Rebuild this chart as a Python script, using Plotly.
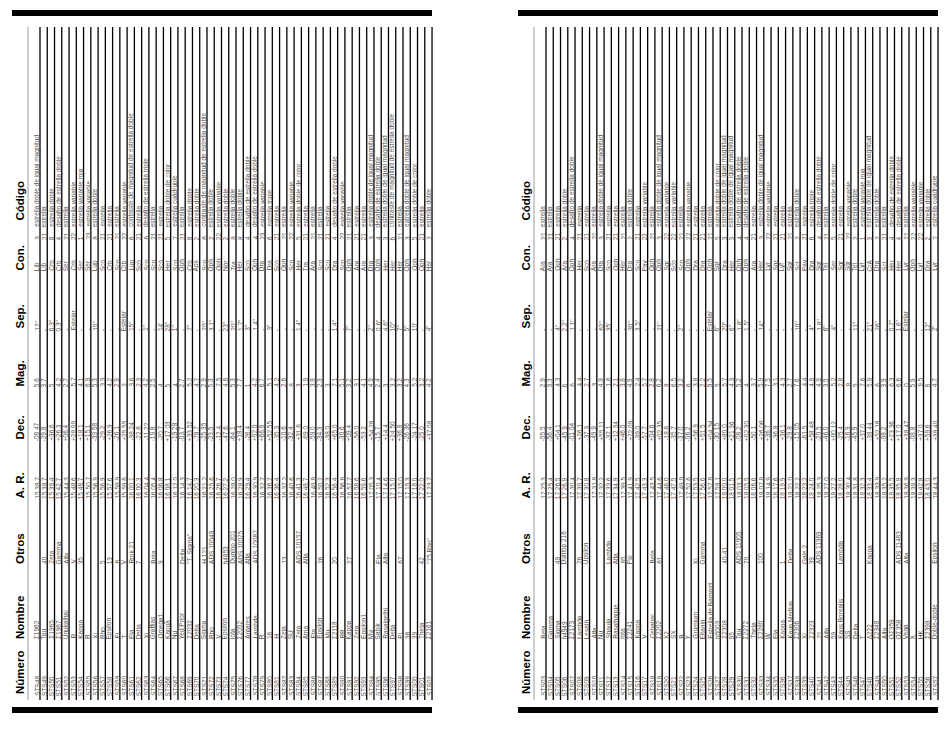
import plotly.graph_objects as go

# star list, two facing pages, every text rotated 90 degrees

numero = ["STS48", "STS49", "STS50", "STS51", "STS52", "STS53", "STS54", "STS55", "STS56", "STS57",
          "STS58", "STS59", "STS60", "STS61", "STS62", "STS63", "STS64", "STS65", "STS66", "STS67",
          "STS68", "STS69", "STS70", "STS71", "STS72", "STS73", "STS74", "STS75", "STS76", "STS77",
          "STS78", "STS79", "STS80", "STS81", "STS82", "STS83", "STS84", "STS85", "STS86", "STS87",
          "STS88", "STS89", "STS90", "STS91", "STS92", "STS93", "STS94", "STS95", "STS96", "STS97",
          "STS98", "STS99", "STS00", "STS01", "STS02",
          "STS03", "STS04", "STS05", "STS06", "STS07", "STS08", "STS09", "STS10", "STS11", "STS12",
          "STS13", "STS14", "STS15", "STS16", "STS17", "STS18", "STS19", "STS20", "STS21", "STS22",
          "STS23", "STS24", "STS25", "STS26", "STS27", "STS28", "STS29", "STS30", "STS31", "STS32",
          "STS33", "STS34", "STS35", "STS36", "STS37", "STS38", "STS39", "STS40", "STS41", "STS42",
          "STS43", "STS44", "STS45", "STS46", "STS47", "STS48", "STS49", "STS50", "STS51", "STS52",
          "STS53", "STS54", "STS55", "STS56", "STS57"]

nombre = ["Σ1962", "Tau", "Σ1965", "Σ1967", "Unukalhai", "R", "Kappa", "R", "Xi", "Rho",
          "Epsilon", "Pi", "T", "Eta", "Delta", "Xi", "Graffias", "Omega1", "Kappa", "Nu",
          "Yed Prior", "Σ2032", "Delta", "Sigma", "Rho", "V", "Epsilon", "Iota", "Σ2052", "Antares",
          "Lambda", "R", "16", "H", "Zeta", "SU", "Zeta", "Atria", "Eta", "Epsilon",
          "Mu", "Σ2118", "RR", "Kappa", "Zeta", "Epsilon1", "Mu", "Sabik", "Rasalgethi", "Delta",
          "Pi", "36", "39", "Theta", "Σ2161",
          "Beta", "Gamma", "Sigma", "h4949", "Σ2173", "Lambda", "Lesath", "Alfa", "Nu", "Shaula",
          "Rasalhague", "Iota", "Σ2241", "Kappa", "V", "Cebalrai", "Σ2202", "X2", "SX", "B",
          "Y", "Grumium", "Eltanin", "Estrella de Barnard", "h5003", "Σ2308", "95", "Tau", "Σ2272", "Theta",
          "Σ2280", "W", "Eta", "Kappa", "Kaus Medius", "Σ2306", "Xi", "Σ2323", "21", "Alfa",
          "59", "Kaus Borealis", "SS", "Delta", "T", "Δ222", "Σ2348", "Alfa", "OΣ359", "OΣ358",
          "Vega", "X", "HK", "Σ2398", "Doble-doble"]

otros = ["", "40", "Zeta", "Gamma", "Alfa", "V", "35", "", "", "5",
         "13", "6", "V", "Rmk 21", "7", "", "Beta", "9", "", "",
         "Delta", "\"T, Sigma\"", "", "H 121", "ADS 10049", "", "h4853", "Dunlop 201", "ADS 10075", "Alfa",
         "ADS 10087", "", "", "", "13", "", "ADS 10157", "Alfa", "", "26",
         "", "20", "", "27", "", "", "", "Eta", "Alfa", "",
         "67", "", "", "42", "\"75 Rho\"",
         "", "", "49", "Dunlop 216", "", "76", "Upsilon", "", "", "Lambda",
         "Alfa", "85", "Psi", "", "", "Beta", "61", "", "", "",
         "", "Xi", "Gamma", "", "", "40-41", "", "ADS 11005", "70", "",
         "100", "", "", "1", "Delta", "", "Gale 2", "39", "ADS 11369", "",
         "", "Lambda", "", "", "", "Kappa", "", "", "", "ADS 11483",
         "Alfa", "", "", "", "Epsilon"]

ar = ["15 38.7", "15 38.7", "15 39.4", "15 42.7", "15 44.3", "15 48.6", "15 48.7", "15 50.7", "15 56.9", "15 56.9",
      "15 57.6", "15 58.9", "15 59.6", "16 00.1", "16 00.3", "16 04.4", "16 05.4", "16 06.8", "16 08.1", "16 12.0",
      "16 14.3", "16 14.7", "16 20.3", "16 21.2", "16 25.6", "16 26.7", "16 27.2", "16 28.0", "16 28.9", "16 29.4",
      "16 30.9", "16 32.7", "16 36.2", "16 36.4", "16 37.2", "16 40.6", "16 41.3", "16 48.7", "16 49.8", "16 50.2",
      "16 52.3", "16 56.4", "16 56.6", "16 57.7", "16 58.6", "16 59.6", "17 05.3", "17 10.4", "17 14.6", "17 15.0",
      "17 15.0", "17 15.3", "17 18.0", "17 22.0", "17 23.7",
      "17 25.3", "17 25.4", "17 26.5", "17 26.9", "17 30.4", "17 30.7", "17 30.8", "17 31.8", "17 32.2", "17 33.6",
      "17 34.9", "17 39.5", "17 41.9", "17 42.5", "17 43.3", "17 43.5", "17 44.6", "17 46.0", "17 47.5", "17 49.9",
      "17 52.6", "17 53.5", "17 56.6", "17 57.8", "17 59.1", "18 00.0", "18 01.5", "18 03.1", "18 05.5", "18 06.6",
      "18 07.8", "18 14.9", "18 17.6", "18 19.9", "18 21.0", "18 22.2", "18 23.2", "18 24.0", "18 25.3", "18 27.0",
      "18 27.2", "18 28.0", "18 30.4", "18 31.8", "18 32.3", "18 33.4", "18 33.9", "18 35.2", "18 35.5", "18 35.9",
      "18 36.9", "18 38.3", "18 42.8", "18 43.0", "18 44.3"]

dec = ["-08 47", "-29.8", "+36.6", "+26.3", "+06.4", "+28 09", "+18.1", "+15.1", "-33 58", "-29.2",
       "+26.9", "-26.1", "+25 55", "-38 24", "-22.6", "-11 22", "-19.8", "-20.7", "+17 03", "-19 28",
       "-03.7", "+33 52", "-78.7", "-25 35", "-23.5", "-12.4", "-47.6", "-64.1", "+18.4", "-26.4",
       "+02.0", "+66.8", "+52 55", "-35.3", "-10.6", "-32.4", "+31.6", "-69.0", "-59.0", "-34.3",
       "-38.0", "+65.0", "-30.6", "+09.4", "-56.0", "-53.2", "+54 28", "-15.7", "+14.4", "+24 50",
       "+36.8", "-26 36", "-24 17", "-25.0", "+37 08",
       "-55.5", "-56.4", "+04.1", "-45.9", "-01 04", "+26.1", "-37.3", "-49.9", "+55 11", "-37.1",
       "+12 34", "+46.0", "+72 09", "-39.0", "-57.7", "+04.6", "+02 35", "-18.6", "-35.7", "-37.0",
       "-06.2", "+56.9", "+51.5", "+04 34", "-30 15", "+80.0", "+21 36", "-08.2", "+02 30", "-50.1",
       "+26 06", "+36.7", "-36.8", "+36.1", "-29.8", "-15 05", "-61.5", "+58 48", "-20.5", "-46.0",
       "+00 12", "-25.4", "-16.9", "-45.9", "+37.0", "-38 44", "+52 18", "-08.2", "+23 36", "+17.0",
       "+38 47", "-08.8", "+37.0", "+59.6", "+39 40"]

mag = ["5.6", "3.7", "5", "4.2", "2.7", "5.7", "4.1", "6.9", "5.3", "3.9",
       "4.2", "2.9", "2", "3.6", "2.3", "4.2", "2.5", "4", "5", "4",
       "2.7", "5.2", "4.7", "2.9", "5.3", "7.5", "4.8", "5.3", "7.7", "1",
       "4.2", "6.7", "5.1", "4.2", "2.6", "8", "3", "1.9", "3.8", "2.3",
       "3", "7.1", "5.1", "3.2", "3.1", "4.1", "4.9", "2.4", "3", "3.2",
       "3.2", "4.3", "5.2", "3.2", "4.2",
       "2.9", "3.3", "4.3", "6", "6", "4.4", "2.7", "3", "4.9", "1.6",
       "2.1", "3.8", "4.9", "2.4", "5.7", "2.8", "6.2", "8", "6.5", "3.2",
       "6", "3.8", "2.2", "9.5", "5", "5.7", "4.3", "5.2", "4", "3.7",
       "5.9", "7.5", "3.1", "4.3", "2.7", "7.6", "4.4", "4.9", "4.9", "3.5",
       "5.2", "2.8", "8", "5", "7.6", "5.9", "6", "3.9", "6.3", "6.6",
       "0", "5.9", "9.5", "8", "4.7"]

sep = ["12\"", "-", "6.3\"", "0.3\"", "-", "Estelar", "-", "-", "10\"", "-",
       "-", "-", "Estelar", "15\"", "-", "1\"", "-", "14'", "28\"", "1\"",
       "-", "7\"", "-", "20\"", "3.1\"", "-", "23\"", "20\"", "1.7\"", "3\"",
       "1.4\"", "-", "3\"", "-", "-", "-", "1.4\"", "-", "-", "-",
       "-", "1.4\"", "-", "7\"", "-", "-", "2\"", "0.6\"", "4.6\"", "10\"",
       "7\"", "5\"", "10'", "-", "4\"",
       "-", "-", "4\"", "2.2\"", "1.1\"", "-", "-", "-", "62\"", "35'",
       "-", "-", "30\"", "3.5\"", "-", "-", "21\"", "-", "-", "2\"",
       "-", "-", "-", "Estelar", "6\"", "20\"", "6\"", "1.8\"", "1.5\"", "-",
       "14\"", "-", "-", "-", "-", "10\"", "-", "4\"", "1.8\"", "6\"",
       "4\"", "-", "-", "11\"", "-", "21\"", "26\"", "-", "0.7\"", "1.6\"",
       "Estelar", "-", "-", "12\"", "2\""]

con = ["Lib", "Lib", "Crb", "Crb", "Ser", "Crb", "Ser", "Ser", "Lup", "Sco",
       "Crb", "Sco", "Crb", "Lup", "Sco", "Sco", "Sco", "Sco", "Her", "Sco",
       "Oph", "Crb", "Aps", "Sco", "Oph", "Oph", "Nor", "Tra", "Her", "Sco",
       "Oph", "Dra", "Dra", "Sco", "Oph", "Sco", "Her", "Tra", "Ara", "Sco",
       "Sco", "Dra", "Sco", "Oph", "Ara", "Ara", "Dra", "Oph", "Her", "Her",
       "Her", "Oph", "Oph", "Oph", "Her",
       "Ara", "Ara", "Oph", "Ara", "Oph", "Her", "Sco", "Ara", "Dra", "Sco",
       "Oph", "Her", "Dra", "Sco", "Pav", "Oph", "Oph", "Sgr", "Sco", "Sco",
       "Oph", "Dra", "Dra", "Oph", "Sgr", "Dra", "Her", "Oph", "Oph", "Ara",
       "Her", "Lyr", "Sgr", "Lyr", "Sgr", "Sct", "Pav", "Dra", "Sgr", "Tel",
       "Ser", "Sgr", "Sgr", "Tel", "Lyr", "CrA", "Dra", "Sct", "Her", "Her",
       "Lyr", "Oph", "Lyr", "Dra", "Lyr"]

cod = ["3", "21", "8", "4", "21", "22", "1", "23", "8", "21",
       "21", "21", "22", "6", "21", "6", "21", "21", "5", "7",
       "21", "8", "2", "6", "2", "22", "2", "8", "8", "4",
       "4", "23", "6", "21", "21", "22", "5", "21", "21", "21",
       "21", "4", "22", "21", "21", "21", "3", "4", "3", "6",
       "21", "3", "5", "21", "2",
       "21", "21", "21", "2", "4", "21", "21", "21", "3", "21",
       "21", "21", "2", "21", "22", "21", "3", "22", "22", "21",
       "22", "21", "21", "21", "5", "3", "3", "4", "4", "21",
       "3", "22", "21", "21", "21", "2", "21", "6", "4", "21",
       "5", "21", "22", "2", "1", "3", "2", "21", "4", "4",
       "21", "22", "22", "2", "7"]

codigo = ["estrella doble de igual magnitud", "estrella", "estrella doble", "desafío de estrella doble",
          "estrella", "estrella variable", "estrella variable roja", "estrella variable", "estrella doble",
          "estrella", "estrella", "estrella", "estrella variable", "contraste de magnitud de estrella doble",
          "estrella", "desafío de estrella triple", "estrella", "estrella", "estrella doble de color",
          "estrella cuádruple", "estrella", "estrella doble", "estrella doble",
          "contraste de magnitud de estrella doble", "estrella doble", "estrella variable", "estrella doble",
          "estrella doble", "estrella doble", "desafío de estrella doble", "desafío de estrella doble",
          "estrella variable", "estrella triple", "estrella", "estrella", "estrella variable",
          "estrella doble de color", "estrella", "estrella", "estrella", "estrella",
          "desafío de estrella doble", "estrella variable", "estrella", "estrella", "estrella",
          "estrella doble de igual magnitud", "desafío de estrella doble", "estrella doble de igual magnitud",
          "contraste de magnitud de estrella doble", "estrella", "estrella doble de igual magnitud",
          "estrella doble de color", "estrella", "estrella doble",
          "estrella", "estrella", "estrella", "estrella doble", "desafío de estrella doble",
          "estrella", "estrella", "estrella", "estrella doble de igual magnitud", "estrella",
          "estrella", "estrella", "estrella doble", "estrella", "estrella variable",
          "estrella", "estrella doble de igual magnitud", "estrella variable", "estrella variable", "estrella",
          "estrella variable", "estrella", "estrella", "estrella", "estrella doble de color",
          "estrella doble de igual magnitud", "estrella doble de igual magnitud", "desafío de estrella doble",
          "desafío de estrella doble", "estrella",
          "estrella doble de igual magnitud", "estrella variable", "estrella", "estrella", "estrella",
          "estrella doble", "estrella", "estrella triple", "desafío de estrella doble", "estrella",
          "estrella doble de color", "estrella", "estrella variable", "estrella doble", "estrella variable roja",
          "estrella doble de igual magnitud", "estrella doble", "estrella", "desafío de estrella doble",
          "desafío de estrella doble",
          "estrella", "estrella variable", "estrella variable", "estrella doble", "estrella cuádruple"]

encabezados = ["Número", "Nombre", "Otros", "A. R.", "Dec.", "Mag.", "Sep.", "Con.", "Código"]

# page geometry (pixels)
W, H = 950, 736
page_off = [0, 506]
rows_page = 55
pitch = 7.26
first_rule = 40
head_x = 19.5
head_base = [695, 640, 565, 500, 441, 388, 330, 272, 222]
col_base = [697, 640, 565, 500, 442, 388, 332, 272, 241, 228]
columns = [numero, nombre, otros, ar, dec, mag, sep, con, cod, codigo]

TXT = dict(family="Liberation Sans, Arial, sans-serif", size=6.5, color="#555555")
HEAD = dict(family="Liberation Sans, Arial, sans-serif", size=11.5, color="black")

fig = go.Figure()
ann = []
shapes = []

for p, off in enumerate(page_off):
    # heavy bars top and bottom
    for y0, y1 in [(10, 16), (707, 713)]:
        shapes.append(dict(type="rect", x0=12 + off, x1=432 + off, y0=y0, y1=y1,
                           fillcolor="black", line=dict(width=0), layer="below"))
    shapes.append(dict(type="line", x0=28 + off, x1=28 + off, y0=27, y1=700,
                       line=dict(color="#9a9a9a", width=1)))
    for t, yb in zip(encabezados, head_base):
        ann.append(dict(x=head_x + off, y=yb, text="<b>%s</b>" % t, textangle=-90,
                        xanchor="center", yanchor="bottom", showarrow=False,
                        font=HEAD, borderpad=0))
    for k in range(rows_page):
        i = p * rows_page + k
        xr = first_rule + pitch * k + off
        shapes.append(dict(type="line", x0=xr, x1=xr, y0=27, y1=700,
                           line=dict(color="black", width=1.3)))
        for col, yb in zip(columns, col_base):
            if col[i] == "":
                continue
            ann.append(dict(x=xr - 3.3, y=yb, text=col[i], textangle=-90,
                            xanchor="center", yanchor="bottom", showarrow=False,
                            font=TXT, borderpad=0))

fig.update_layout(
    width=W, height=H, margin=dict(l=0, r=0, t=0, b=0),
    paper_bgcolor="white", plot_bgcolor="white",
    xaxis=dict(range=[0, W], visible=False, fixedrange=True),
    yaxis=dict(range=[H, 0], visible=False, fixedrange=True),
    annotations=ann, shapes=shapes, showlegend=False,
)

fig.write_html("out.html", config={"displayModeBar": False},
               post_script="document.body.style.margin='0';")
